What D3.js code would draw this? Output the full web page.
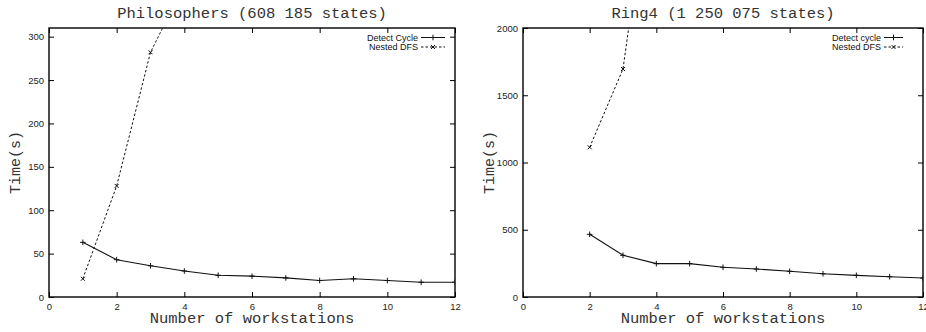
<!DOCTYPE html>
<html>
<head>
<meta charset="utf-8">
<script src="https://cdn.jsdelivr.net/npm/d3@7"></script>
<style>
  body { margin: 0; background: #fff; }
  svg { display: block; }
  .tick-label { font-family: "Liberation Sans", Arial, sans-serif; font-size: 9.5px; fill: #222; }
  .mono { font-family: "Liberation Mono", "Courier New", monospace; fill: #333; }
  .legend { font-family: "Liberation Sans", Arial, sans-serif; font-size: 9px; fill: #111; }
</style>
</head>
<body>
<svg id="chart" width="926" height="332"></svg>
<script>
// data
const philoWorkstations = [1, 2, 3, 4, 5, 6, 7, 8, 9, 10, 11, 12]
const philoDetect = [63, 43, 36, 30, 25, 24, 22, 19, 21, 19, 17, 17]
const philoNestedWorkstations = [1, 2, 3, 4]
const philoNested = [21, 128, 282, 360]

const ringWorkstations = [2, 3, 4, 5, 6, 7, 8, 9, 10, 11, 12]
const ringDetect = [466, 310, 248, 248, 221, 208, 191, 173, 161, 151, 141]
const ringNestedWorkstations = [2, 3, 4]
const ringNested = [1113, 1695, 3480]

const xTicks = [0, 2, 4, 6, 8, 10, 12]
const philoYTicks = [0, 50, 100, 150, 200, 250, 300]
const ringYTicks = [0, 500, 1000, 1500, 2000]

const svg = d3.select('#chart')

const drawPanel = (opts) => {
  const { id, left, right, top, bottom, yMax, yTicks, title, detectLabel, detect, nested, legendX, legendEnd } = opts

  const xScale = d3.scaleLinear().domain([0, 12]).range([left, right])
  const yScale = d3.scaleLinear().domain([0, yMax]).range([bottom, top])

  const g = svg.append('g')

  g.append('clipPath')
    .attr('id', 'clip-' + id)
    .append('rect')
    .attr('x', left)
    .attr('y', top)
    .attr('width', right - left)
    .attr('height', bottom - top)

  // ticks, mirrored inward on all four sides
  const tickLen = 5
  g.append('g')
    .attr('transform', `translate(0,${bottom})`)
    .call(d3.axisBottom(xScale).tickValues(xTicks).tickSize(-tickLen).tickPadding(6).tickFormat(d3.format('d')))
    .call((s) => s.select('.domain').remove())
    .call((s) => s.selectAll('.tick line').attr('stroke', '#000'))
    .call((s) => s.selectAll('.tick text').attr('class', 'tick-label').attr('fill', null))
  g.append('g')
    .attr('transform', `translate(0,${top})`)
    .call(d3.axisTop(xScale).tickValues(xTicks).tickSize(-tickLen).tickFormat(''))
    .call((s) => s.select('.domain').remove())
    .call((s) => s.selectAll('.tick line').attr('stroke', '#000'))

  g.append('g')
    .attr('transform', `translate(${left},0)`)
    .call(d3.axisLeft(yScale).tickValues(yTicks).tickSize(-tickLen).tickPadding(5).tickFormat(d3.format('d')))
    .call((s) => s.select('.domain').remove())
    .call((s) => s.selectAll('.tick line').attr('stroke', '#000'))
    .call((s) => s.selectAll('.tick text').attr('class', 'tick-label').attr('fill', null))
  g.append('g')
    .attr('transform', `translate(${right},0)`)
    .call(d3.axisRight(yScale).tickValues(yTicks).tickSize(-tickLen).tickFormat(''))
    .call((s) => s.select('.domain').remove())
    .call((s) => s.selectAll('.tick line').attr('stroke', '#000'))

  // frame
  g.append('rect')
    .attr('x', left)
    .attr('y', top)
    .attr('width', right - left)
    .attr('height', bottom - top)
    .attr('fill', 'none')
    .attr('stroke', '#000')
    .attr('stroke-width', 1.4)

  const line = d3
    .line()
    .x((d) => xScale(d[0]))
    .y((d) => yScale(d[1]))

  const plot = g.append('g').attr('clip-path', `url(#clip-${id})`)

  plot.append('path')
    .datum(detect)
    .attr('d', line)
    .attr('fill', 'none')
    .attr('stroke', '#111')
    .attr('stroke-width', 1.1)

  plot.append('path')
    .datum(nested)
    .attr('d', line)
    .attr('fill', 'none')
    .attr('stroke', '#111')
    .attr('stroke-width', 1)
    .attr('stroke-dasharray', '2.5,2')

  const plus = (sel, x, y) => {
    sel.append('path')
      .attr('d', `M${x - 2.8},${y}H${x + 2.8}M${x},${y - 2.8}V${y + 2.8}`)
      .attr('stroke', '#111')
      .attr('stroke-width', 1)
  }
  const cross = (sel, x, y) => {
    sel.append('path')
      .attr('d', `M${x - 2},${y - 2}L${x + 2},${y + 2}M${x - 2},${y + 2}L${x + 2},${y - 2}`)
      .attr('stroke', '#111')
      .attr('stroke-width', 1)
  }

  detect.filter((d) => d[1] <= yMax).forEach((d) => plus(plot, xScale(d[0]), yScale(d[1])))
  nested.filter((d) => d[1] <= yMax).forEach((d) => cross(plot, xScale(d[0]), yScale(d[1])))

  // legend
  const rows = [
    { label: detectLabel, y: 37.5, dash: null, mark: plus },
    { label: 'Nested DFS', y: 47, dash: '2.5,2', mark: cross },
  ]
  rows.forEach((r) => {
    g.append('text')
      .attr('class', 'legend')
      .attr('x', legendX - 3)
      .attr('y', r.y)
      .attr('dy', '0.35em')
      .attr('text-anchor', 'end')
      .text(r.label)
    g.append('line')
      .attr('x1', legendX)
      .attr('x2', legendEnd)
      .attr('y1', r.y)
      .attr('y2', r.y)
      .attr('stroke', '#111')
      .attr('stroke-width', 1)
      .attr('stroke-dasharray', r.dash)
    r.mark(g, (legendX + legendEnd) / 2, r.y)
  })

  // titles
  g.append('text')
    .attr('class', 'mono')
    .attr('x', (left + right) / 2)
    .attr('y', 17.5)
    .attr('text-anchor', 'middle')
    .style('font-size', '15.5px')
    .text(title)

  g.append('text')
    .attr('class', 'mono')
    .attr('x', (left + right) / 2)
    .attr('y', 323)
    .attr('text-anchor', 'middle')
    .style('font-size', '15.5px')
    .text('Number of workstations')

  g.append('text')
    .attr('class', 'mono')
    .attr('transform', `translate(${left - 29},${(top + bottom) / 2}) rotate(-90)`)
    .attr('text-anchor', 'middle')
    .style('font-size', '15px')
    .text('Time(s)')
}

drawPanel({
  id: 'philo',
  left: 49,
  right: 455,
  top: 28,
  bottom: 297,
  yMax: 310,
  yTicks: philoYTicks,
  title: 'Philosophers (608 185 states)',
  detectLabel: 'Detect Cycle',
  detect: philoWorkstations.map((w, i) => [w, philoDetect[i]]),
  nested: philoNestedWorkstations.map((w, i) => [w, philoNested[i]]),
  legendX: 421,
  legendEnd: 445,
})

drawPanel({
  id: 'ring',
  left: 523,
  right: 923,
  top: 28,
  bottom: 297,
  yMax: 2000,
  yTicks: ringYTicks,
  title: 'Ring4 (1 250 075 states)',
  detectLabel: 'Detect cycle',
  detect: ringWorkstations.map((w, i) => [w, ringDetect[i]]),
  nested: ringNestedWorkstations.map((w, i) => [w, ringNested[i]]),
  legendX: 884,
  legendEnd: 903,
})
</script>
</body>
</html>
